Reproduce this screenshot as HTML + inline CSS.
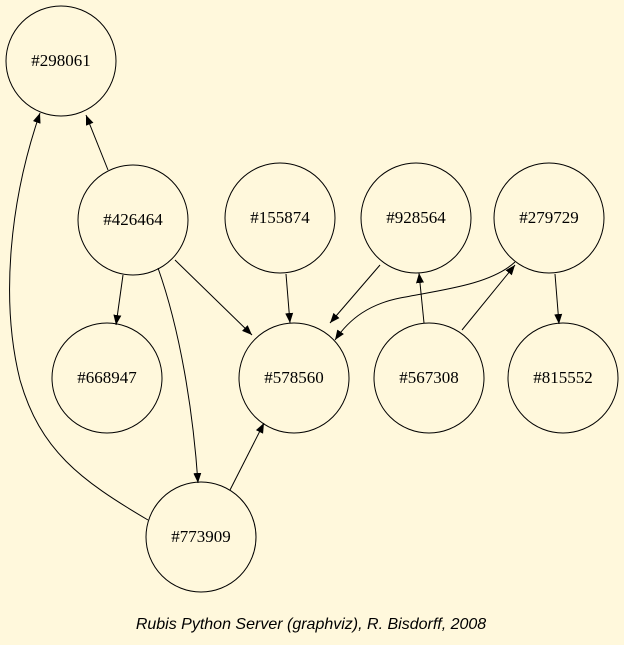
<!DOCTYPE html>
<html><head><style>
html,body{margin:0;padding:0;background:#fff8dc;}
svg{display:block;}
text{font-family:"Liberation Serif",serif;font-size:17px;}
</style></head><body>
<svg width="624" height="645" viewBox="0 0 624 645" xmlns="http://www.w3.org/2000/svg">
<defs><marker id="a" viewBox="0 0 10 10" refX="10" refY="5" markerWidth="10" markerHeight="10" markerUnits="userSpaceOnUse" orient="auto"><path d="M0,1 L10,5 L0,9 z" fill="#000"/></marker></defs>
<rect width="624" height="645" fill="#fff8dc"/>
<g fill="none" stroke="#000" stroke-width="1">
<circle cx="61" cy="61" r="55"/>
<circle cx="133" cy="220" r="55"/>
<circle cx="280" cy="218" r="55"/>
<circle cx="416" cy="218" r="55"/>
<circle cx="549" cy="218" r="55"/>
<circle cx="107" cy="378" r="55"/>
<circle cx="294" cy="378" r="55"/>
<circle cx="429" cy="378" r="55"/>
<circle cx="563" cy="378" r="55"/>
<circle cx="201" cy="537" r="55"/>
<g marker-end="url(#a)">
<path d="M108,170 L86,115"/>
<path d="M123,275 L116,325"/>
<path d="M175,260 L252,335"/>
<path d="M158,268 C180,330 193,410 198,483"/>
<path d="M286,274 L290,323"/>
<path d="M380,265 L330,323"/>
<path d="M515,262 C490,285 440,290 400,298 C370,304 350,318 335,340"/>
<path d="M555,274 L559,324"/>
<path d="M424,323 L419,273"/>
<path d="M462,330 L515,265"/>
<path d="M230,490 L264,423"/>
<path d="M148,520 C80,480 40,450 20,380 C0,300 10,200 40,113"/>
</g>
</g>
<g text-anchor="middle">
<text x="61" y="66">#298061</text>
<text x="133" y="225">#426464</text>
<text x="280" y="223">#155874</text>
<text x="416" y="223">#928564</text>
<text x="549" y="223">#279729</text>
<text x="107" y="383">#668947</text>
<text x="294" y="383">#578560</text>
<text x="429" y="383">#567308</text>
<text x="563" y="383">#815552</text>
<text x="201" y="542">#773909</text>
<text x="311" y="629" style="font-family:'Liberation Sans',sans-serif;font-style:italic;font-size:16px">Rubis Python Server (graphviz), R. Bisdorff, 2008</text>
</g>
</svg>
</body></html>
